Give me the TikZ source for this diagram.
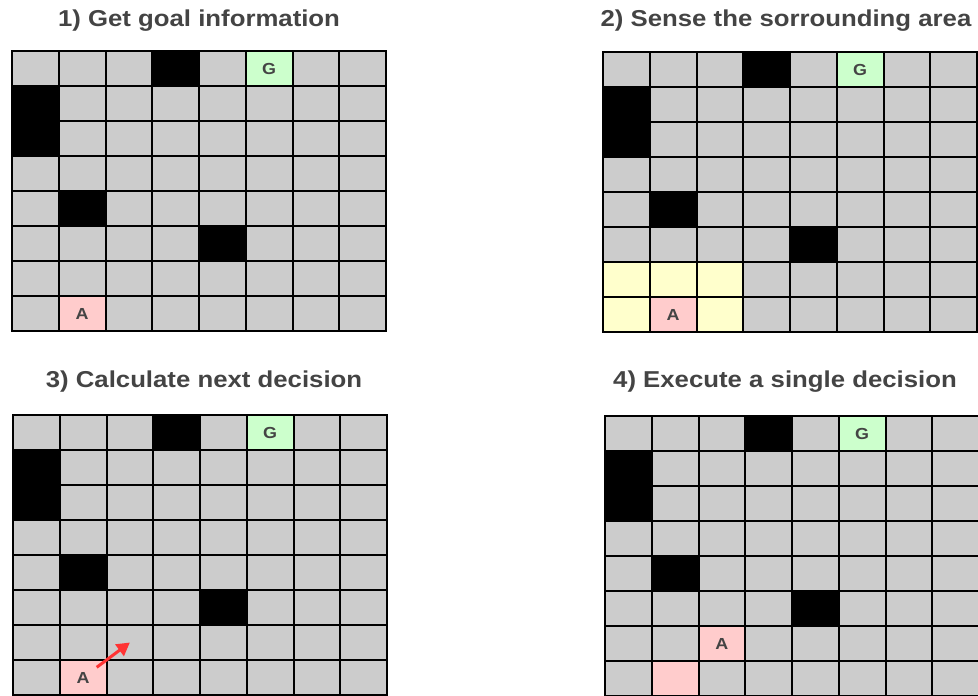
\documentclass[tikz,border=0pt]{standalone}
\usepackage{fontspec}
\setmainfont{Liberation Sans}
\newfontfamily\widefont[FakeStretch=1.12]{Liberation Sans}
\usetikzlibrary{arrows.meta}
\definecolor{CellGray}{RGB}{204,204,204}
\definecolor{GoalGreen}{RGB}{204,255,204}
\definecolor{AgentPink}{RGB}{255,204,204}
\definecolor{SenseYellow}{RGB}{255,255,204}
\definecolor{TextGray}{RGB}{68,68,68}
\definecolor{MoveRed}{RGB}{255,51,51}

\begin{document}
\begin{tikzpicture}[x=1pt, y=-1pt,
          cell/.style={rectangle, draw=black, line width=2pt, fill=CellGray,
                       minimum width=46.75pt, minimum height=35pt, inner sep=0pt,
                       font=\widefont\bfseries\fontsize{16}{16}\selectfont, text=TextGray},
          title/.style={anchor=base, font=\widefont\bfseries\fontsize{23}{23}\selectfont,
                        text=TextGray},
          arr/.style={-{Triangle[length=13pt, width=14pt]}, line width=3pt, MoveRed}
        ]
        \useasboundingbox (0,0) rectangle (978,696);

        % Four 8x8 worlds with walls and goal
        \foreach \k/\ox/\oy in {1/12/51, 2/603/52, 3/13/415, 4/605/416} {
          \foreach \r in {0,...,7} {
            \foreach \c in {0,...,7} {
              \node[cell] (g\k-\r-\c) at ({\ox+(\c+0.5)*46.75}, {\oy+(\r+0.5)*35}) {};
            }
          }
          \foreach \r/\c in {0/3, 1/0, 2/0, 4/1, 5/4}
            \node[cell, fill=black] (w\k-\r-\c) at (g\k-\r-\c) {};
          \node[cell, fill=GoalGreen] (goal\k) at (g\k-0-5) {G};
        }

        % Sensed neighbourhood (world 2)
        \foreach \r/\c in {6/0, 6/1, 6/2, 7/0, 7/2}
          \node[cell, fill=SenseYellow] (s-\r-\c) at (g2-\r-\c) {};

        % Agent
        \foreach \k in {1,2,3}
          \node[cell, fill=AgentPink] (agent\k) at (g\k-7-1) {A};
        \node[cell, fill=AgentPink] (prev4) at (g4-7-1) {};
        \node[cell, fill=AgentPink] (agent4) at (g4-6-2) {A};

        % Next decision
        \draw[arr, shorten <=17pt] (agent3.center) -- (g3-6-2.center);

        % Step titles
        \node[title] (t1) at (199,26) {1) Get goal information};
        \node[title] (t2) at (786,27) {2) Sense the sorrounding area};
        \node[title] (t3) at (204,387) {3) Calculate next decision};
        \node[title] (t4) at (785,387) {4) Execute a single decision};
      \end{tikzpicture}
\end{document}
